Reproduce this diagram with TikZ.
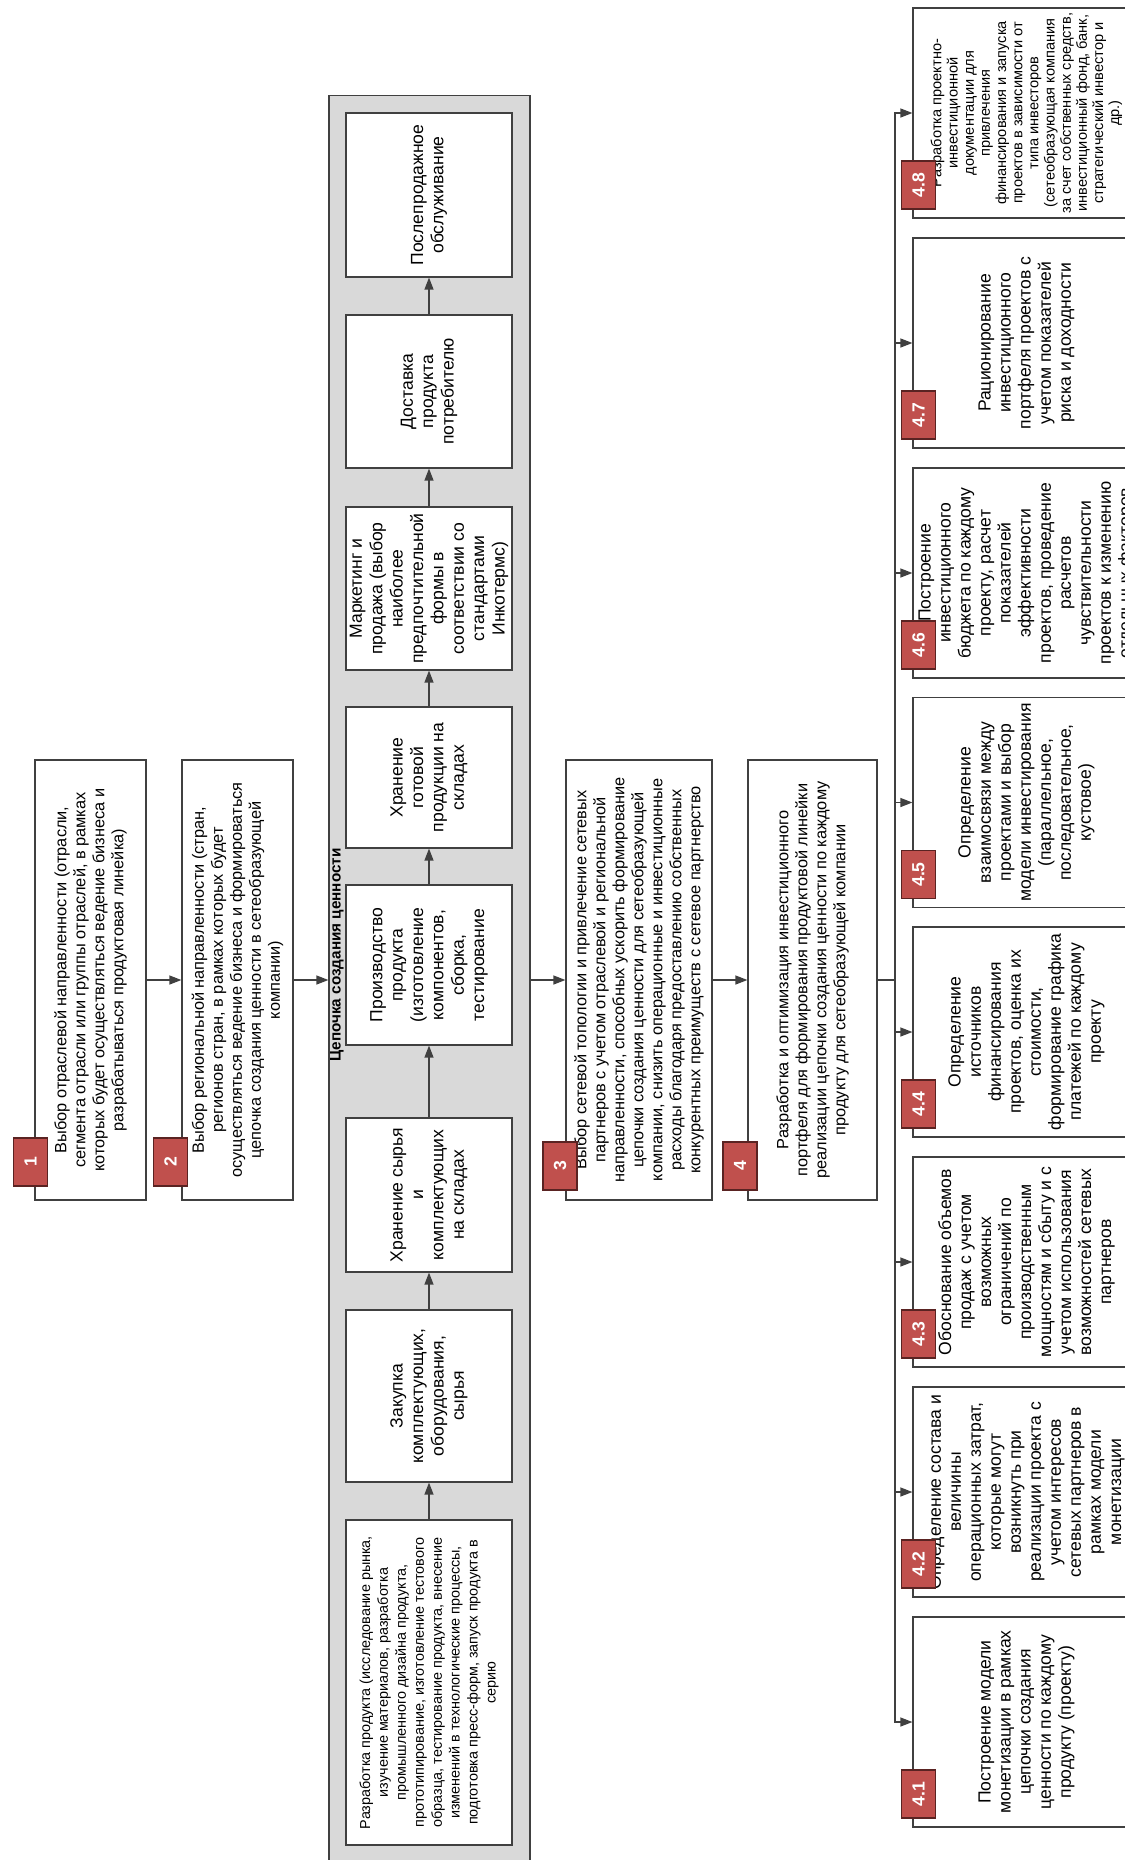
\documentclass[tikz,border=0pt]{standalone}
\usepackage{fontspec}
\setmainfont{Liberation Sans}
\usetikzlibrary{arrows.meta}

\definecolor{badgered}{HTML}{C0504D}
\definecolor{badgeline}{HTML}{5A2322}
\definecolor{lanegray}{HTML}{D9D9D9}
\definecolor{edgegray}{HTML}{404040}

\begin{document}
\begin{tikzpicture}[
  x=0.02cm, y=-0.02cm,
  stepbox/.style={rectangle, draw=edgegray, fill=white, line width=0.7pt, rotate=90, align=center, inner sep=1pt, minimum width=8.8cm, font=\fontsize{9.3}{10.8}\selectfont},
  chainbox/.style={rectangle, draw=edgegray, fill=white, line width=0.7pt, rotate=90, align=center, inner sep=1pt, minimum height=3.32cm, font=\fontsize{10}{11.6}\selectfont},
  subbox/.style={rectangle, draw=edgegray, fill=white, line width=0.7pt, rotate=90, align=center, inner sep=1pt, minimum width=4.2cm, minimum height=4.54cm, font=\fontsize{10}{11.4}\selectfont},
  badge/.style={rectangle, draw=badgeline, fill=badgered, line width=0.6pt, rotate=90, minimum width=0.96cm, minimum height=0.68cm, inner sep=0pt, text=white, font=\bfseries\fontsize{10}{11}\selectfont},
  lane/.style={rectangle, draw=edgegray, fill=lanegray, line width=0.7pt},
  flow/.style={draw=edgegray, line width=0.7pt, -{Triangle[length=2.4mm,width=1.8mm]}},
  wire/.style={draw=edgegray, line width=0.7pt}
]
\useasboundingbox (0,0) rectangle (1125,1860);
\clip (0,0) rectangle (1125,1860);

% Steps 1-4 along the main line
\node[stepbox, minimum height=2.22cm] (b1) at (90.5,980) {Выбор отраслевой направленности (отрасли,\\сегмента отрасли или группы отраслей, в рамках\\которых будет осуществляться ведение бизнеса и\\разрабатываться продуктовая линейка)};
\node[stepbox, minimum height=2.22cm] (b2) at (237.5,980) {Выбор региональной направленности (стран,\\регионов стран, в рамках которых будет\\осуществляться ведение бизнеса и формироваться\\цепочка создания ценности в сетеобразующей\\компании)};
\node[stepbox, minimum height=2.92cm] (b3) at (639,980) {Выбор сетевой топологии и привлечение сетевых\\партнеров с учетом отраслевой и региональной\\направленности, способных ускорить формирование\\цепочки создания ценности для сетеобразующей\\компании, снизить операционные и инвестиционные\\расходы благодаря предоставлению собственных\\конкурентных преимуществ с сетевое партнерство};
\node[stepbox, minimum height=2.58cm] (b4) at (812.5,980) {Разработка и оптимизация инвестиционного\\портфеля для формирования продуктовой линейки\\реализации цепочки создания ценности по каждому\\продукту для сетеобразующей компании};

% Value chain lane
\node[lane, minimum width=4.02cm, minimum height=35.4cm] (lane) at (429.5,980) {};
\node[rotate=90, font=\bfseries\fontsize{8.7}{10}\selectfont, inner sep=0pt] (lanetitle) at (337,955) {Цепочка создания ценности};

\node[chainbox, minimum width=6.5cm, font=\fontsize{8.2}{10.2}\selectfont] (c1) at (429,1682.5) {Разработка продукта (исследование рынка,\\изучение материалов, разработка\\промышленного дизайна продукта,\\прототипирование, изготовление тестового\\образца, тестирование продукта, внесение\\изменений в технологические процессы,\\подготовка пресс-форм, запуск продукта в\\серию};
\node[chainbox, minimum width=3.44cm] (c2) at (429,1396) {Закупка\\комплектующих,\\оборудования,\\сырья};
\node[chainbox, minimum width=3.08cm] (c3) at (429,1195) {Хранение сырья\\и\\комплектующих\\на складах};
\node[chainbox, minimum width=3.2cm] (c4) at (429,965) {Производство\\продукта\\(изготовление\\компонентов,\\сборка,\\тестирование};
\node[chainbox, minimum width=2.82cm] (c5) at (429,777.5) {Хранение\\готовой\\продукции на\\складах};
\node[chainbox, minimum width=3.26cm] (c6) at (429,588.5) {Маркетинг и\\продажа (выбор\\наиболее\\предпочтительной\\формы в\\соответствии со\\стандартами\\Инкотермс)};
\node[chainbox, minimum width=3.06cm] (c7) at (429,391.5) {Доставка\\продукта\\потребителю};
\node[chainbox, minimum width=3.28cm] (c8) at (429,195) {Послепродажное\\обслуживание};

% Sub-steps of step 4
\node[subbox] (s41) at (1026.5,1722) {Построение модели\\монетизации в рамках\\цепочки создания\\ценности по каждому\\продукту (проекту)};
\node[subbox] (s42) at (1026.5,1492) {Определение состава и\\величины\\операционных затрат,\\которые могут\\возникнуть при\\реализации проекта с\\учетом интересов\\сетевых партнеров в\\рамках модели\\монетизации};
\node[subbox] (s43) at (1026.5,1262) {Обоснование объемов\\продаж с учетом\\возможных\\ограничений по\\производственным\\мощностям и сбыту и с\\учетом использования\\возможностей сетевых\\партнеров};
\node[subbox] (s44) at (1026.5,1032) {Определение\\источников\\финансирования\\проектов, оценка их\\стоимости,\\формирование графика\\платежей по каждому\\проекту};
\node[subbox] (s45) at (1026.5,802.5) {Определение\\взаимосвязи между\\проектами и выбор\\модели инвестирования\\(параллельное,\\последовательное,\\кустовое)};
\node[subbox] (s46) at (1026.5,573) {Построение\\инвестиционного\\бюджета по каждому\\проекту, расчет\\показателей\\эффективности\\проектов, проведение\\расчетов\\чувствительности\\проектов к изменению\\отдельных факторов};
\node[subbox] (s47) at (1026.5,343) {Рационирование\\инвестиционного\\портфеля проектов с\\учетом показателей\\риска и доходности};
\node[subbox, font=\fontsize{8.3}{9.2}\selectfont] (s48) at (1026.5,113) {Разработка проектно-\\инвестиционной\\документации для\\привлечения\\финансирования и запуска\\проектов в зависимости от\\типа инвесторов\\(сетеобразующая компания\\за счет собственных средств,\\инвестиционный фонд, банк,\\стратегический инвестор и\\др.)};

% Number badges
\node[badge] (n1) at (30.5,1162) {1};
\node[badge] (n2) at (170.5,1162) {2};
\node[badge] (n3) at (560,1166) {3};
\node[badge] (n4) at (740,1166) {4};
\foreach \k/\yy in {1/1722,2/1492,3/1262,4/1032,5/802.5,6/573,7/343,8/113}
  \node[badge] (n4\k) at (918.5,\yy+72) {4.\k};

% Connectors
\draw[flow] (b1) -- (b2);
\draw[flow] (b2) -- (lane);
\draw[flow] (lane) -- (b3);
\draw[flow] (b3) -- (b4);
\foreach \a/\b in {c1/c2,c2/c3,c3/c4,c4/c5,c5/c6,c6/c7,c7/c8}
  \draw[flow] (\a) -- (\b);
\coordinate (bus) at (895,980);
\draw[wire] (b4) -- (bus);
\foreach \k in {1,...,8}
  \draw[flow] (bus) |- (s4\k);
\end{tikzpicture}
\end{document}
